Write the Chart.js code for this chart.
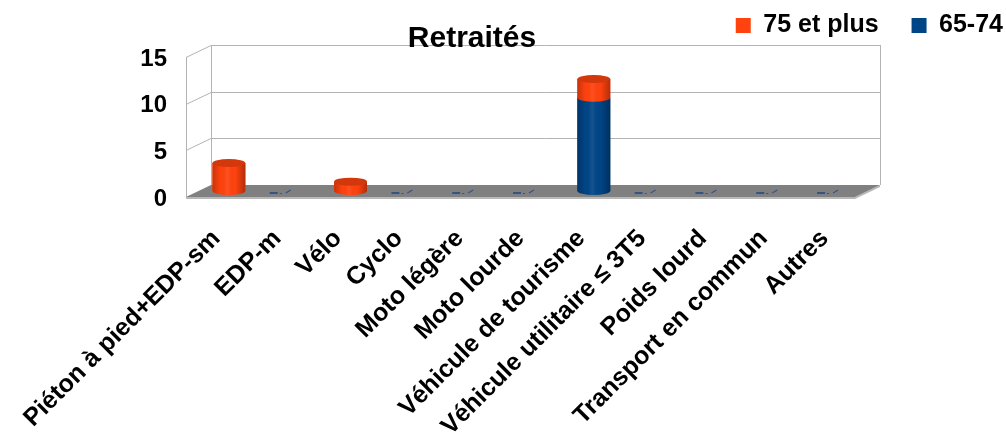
<!DOCTYPE html>
<html>
<head>
<meta charset="utf-8">
<script src="https://cdn.jsdelivr.net/npm/chart.js@4"></script>
<style>
  html, body { margin: 0; padding: 0; background: #fff; }
  #wrap { width: 1006px; height: 439px; }
</style>
</head>
<body>
<div id="wrap"><canvas id="chart" width="1006" height="439"></canvas></div>
<script>
// Data
const categories = ['Piéton à pied+EDP-sm', 'EDP-m', 'Vélo', 'Cyclo', 'Moto légère', 'Moto lourde',
    'Véhicule de tourisme', 'Véhicule utilitaire ≤ 3T5', 'Poids lourd', 'Transport en commun', 'Autres'];
const age6574 = [0, 0, 0, 0, 0, 0, 10, 0, 0, 0, 0];
const age75plus = [3, 0, 1, 0, 0, 0, 2, 0, 0, 0, 0];
const yTicks = [0, 5, 10, 15];

// Look
const FONT = "'Liberation Sans', Arial, sans-serif";
const BLUE = '#004586';
const ORANGE = '#ff420e';
const DX = 25, DY = -12;   // depth of the 3D box
const RY = 4;              // cylinder cap radius (vertical)

function shade(ctx, left, right) {
    const g = ctx.createLinearGradient(left, 0, right, 0);
    g.addColorStop(0, 'rgba(0,0,0,0.22)');
    g.addColorStop(0.25, 'rgba(0,0,0,0)');
    g.addColorStop(0.45, 'rgba(255,255,255,0.08)');
    g.addColorStop(0.7, 'rgba(0,0,0,0)');
    g.addColorStop(1, 'rgba(0,0,0,0.3)');
    return g;
}

// Draws the walls/floor and turns the flat bars into cylinders
const box3d = {
    id: 'box3d',
    beforeDatasetsDraw(chart) {
        const { ctx, chartArea: a, scales: { y } } = chart;
        ctx.save();
        ctx.strokeStyle = '#b3b3b3';
        ctx.lineWidth = 1;
        ctx.beginPath();
        yTicks.forEach(v => {
            if (v === 0) return;
            const py = Math.round(y.getPixelForValue(v)) + 0.5;
            ctx.moveTo(a.left, py);
            ctx.lineTo(a.left + DX, py + DY);
            ctx.lineTo(a.right + DX, py + DY);
        });
        ctx.moveTo(a.left + 0.5, a.top);
        ctx.lineTo(a.left + 0.5, a.bottom);
        ctx.moveTo(a.left + DX + 0.5, a.top + DY);
        ctx.lineTo(a.left + DX + 0.5, a.bottom + DY);
        ctx.moveTo(a.right + DX + 0.5, a.top + DY);
        ctx.lineTo(a.right + DX + 0.5, a.bottom + DY);
        ctx.stroke();

        // floor slab
        ctx.fillStyle = '#b8b8b8';
        ctx.beginPath();
        ctx.moveTo(a.left, a.bottom);
        ctx.lineTo(a.right, a.bottom);
        ctx.lineTo(a.right + DX, a.bottom + DY);
        ctx.lineTo(a.right + DX, a.bottom + DY + 2);
        ctx.lineTo(a.right, a.bottom + 2);
        ctx.lineTo(a.left, a.bottom + 2);
        ctx.closePath();
        ctx.fill();
        ctx.fillStyle = '#808080';
        ctx.beginPath();
        ctx.moveTo(a.left, a.bottom);
        ctx.lineTo(a.right, a.bottom);
        ctx.lineTo(a.right + DX, a.bottom + DY);
        ctx.lineTo(a.left + DX, a.bottom + DY);
        ctx.closePath();
        ctx.fill();
        ctx.restore();

        ctx.save();
        ctx.translate(DX / 2, DY / 2);
    },
    afterDatasetsDraw(chart) {
        const { ctx } = chart;
        const n = chart.data.labels.length;
        for (let i = 0; i < n; i++) {
            let top = null;
            chart.data.datasets.forEach((ds, d) => {
                const el = chart.getDatasetMeta(d).data[i];
                if (!ds.data[i]) return;
                const { x, y, base, width } = el.getProps(['x', 'y', 'base', 'width'], true);
                const l = x - width / 2, r = x + width / 2;
                ctx.beginPath();
                ctx.moveTo(r, y);
                ctx.lineTo(l, y);
                ctx.lineTo(l, base);
                ctx.ellipse(x, base, width / 2, RY, 0, Math.PI, 0, true);
                ctx.closePath();
                ctx.fillStyle = ds.backgroundColor;
                ctx.fill();
                ctx.fillStyle = shade(ctx, l, r);
                ctx.fill();
                top = { x, y, width, cap: ds.capColor };
            });
            if (top) {
                ctx.beginPath();
                ctx.ellipse(top.x, top.y, top.width / 2, RY, 0, 0, Math.PI * 2);
                ctx.fillStyle = top.cap;
                ctx.fill();
            } else {
                // flat remains of an empty cylinder
                const el = chart.getDatasetMeta(0).data[i];
                const { x, base } = el.getProps(['x', 'base'], true);
                ctx.fillStyle = 'rgba(30,70,130,0.75)';
                ctx.fillRect(x - 20, base + 1, 8, 2);
                ctx.fillRect(x - 10, base + 2, 2, 1);
                ctx.strokeStyle = 'rgba(30,70,130,0.75)';
                ctx.lineWidth = 1.2;
                ctx.beginPath();
                ctx.moveTo(x - 4, base + 2);
                ctx.lineTo(x + 1, base - 1);
                ctx.stroke();
            }
        }
        ctx.restore();
    },
    afterDraw(chart) {
        const { ctx } = chart;
        ctx.save();
        ctx.font = 'bold 30px ' + FONT;
        ctx.fillStyle = '#000';
        ctx.textAlign = 'center';
        ctx.textBaseline = 'alphabetic';
        ctx.fillText('Retraités', 472, 47);
        ctx.restore();
    }
};

new Chart(document.getElementById('chart'), {
    type: 'bar',
    data: {
        labels: categories,
        datasets: [
            { label: '65-74', data: age6574, backgroundColor: BLUE, capColor: '#003a70' },
            { label: '75 et plus', data: age75plus, backgroundColor: ORANGE, capColor: '#d2380c' }
        ]
    },
    options: {
        responsive: false,
        animation: false,
        maintainAspectRatio: false,
        layout: { padding: { top: -20, right: -30, left: 0, bottom: 0 } },
        datasets: {
            bar: { barPercentage: 0.9, categoryPercentage: 0.6, borderWidth: 0, clip: false }
        },
        plugins: {
            title: { display: false },
            tooltip: { enabled: false },
            legend: {
                position: 'top',
                align: 'end',
                reverse: true,
                labels: {
                    boxWidth: 15,
                    boxHeight: 15,
                    padding: 33,
                    color: '#000',
                    font: { family: FONT, size: 25, weight: 'bold' }
                }
            }
        },
        scales: {
            x: {
                stacked: true,
                grid: { display: false },
                border: { display: false },
                ticks: {
                    color: '#000',
                    font: { family: FONT, size: 25, weight: 'bold' },
                    minRotation: 45,
                    maxRotation: 45,
                    autoSkip: false,
                    padding: 19
                },
                afterFit(s) { s.height = 242; s.paddingLeft = 0; s.paddingRight = 0; }
            },
            xTop: {
                type: 'category',
                position: 'top',
                grid: { display: false },
                border: { display: false },
                ticks: { display: false },
                afterFit(s) { s.height = 9; }
            },
            y: {
                stacked: true,
                min: 0,
                max: 15,
                grid: { display: false, drawTicks: false },
                border: { display: false },
                ticks: {
                    stepSize: 5,
                    color: '#000',
                    padding: 19,
                    labelOffset: 2,
                    font: { family: FONT, size: 24, weight: 'bold' }
                },
                afterFit(s) { s.width = 186; s.paddingTop = 0; s.paddingBottom = 0; }
            },
            yRight: {
                type: 'linear',
                position: 'right',
                grid: { display: false },
                border: { display: false },
                ticks: { display: false },
                afterFit(s) { s.width = 181; }
            }
        }
    },
    plugins: [box3d]
});
</script>
</body>
</html>
